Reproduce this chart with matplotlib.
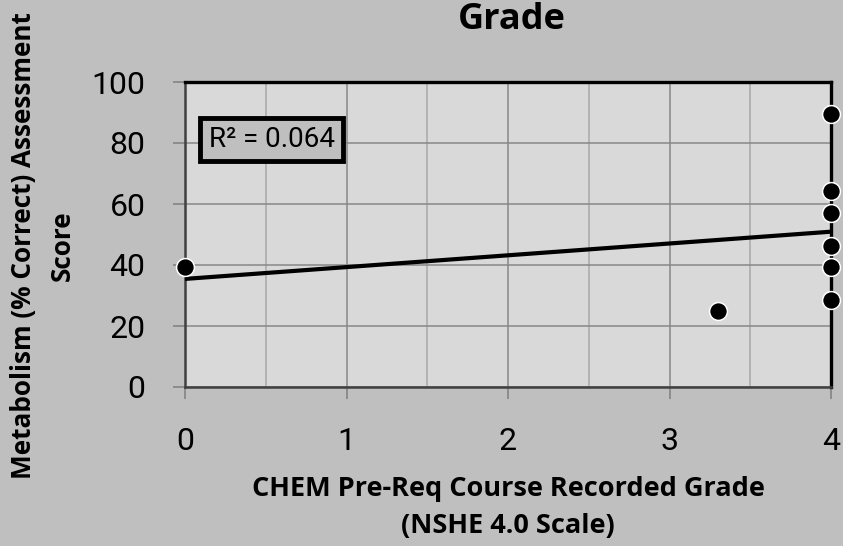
import numpy as np
import matplotlib
matplotlib.use("Agg")
import matplotlib.pyplot as plt
from matplotlib.ticker import MultipleLocator

# values
grade = [0.0, 3.3, 4.0, 4.0, 4.0, 4.0, 4.0, 4.0]
score = [39.5, 25.0, 89.4, 64.3, 57.0, 46.3, 39.2, 28.5]
r2_label = "R² = 0.064"
x_ticks = [0, 1, 2, 3, 4]
y_ticks = [0, 20, 40, 60, 80, 100]

OUTER, INNER = "#bfbfbf", "#d9d9d9"
GRID_MAJOR, GRID_MINOR = "#878787", "#a8a8a8"
BOLD_FONT = ["Open Sans", "DejaVu Sans"]

plt.rcParams["font.family"] = ["Roboto", "DejaVu Sans"]

W, H = 843, 546
fig = plt.figure(figsize=(W / 100, H / 100), dpi=100, facecolor=OUTER)
ax = fig.add_axes([185 / W, 1 - 387 / H, (831 - 185) / W, (387 - 82) / H])
ax.set_facecolor(INNER)

ax.set_xlim(0, 4)
ax.set_ylim(0, 100)
ax.set_xticks(x_ticks)
ax.set_yticks(y_ticks)
ax.xaxis.set_minor_locator(MultipleLocator(0.5))
ax.grid(True, which="major", color=GRID_MAJOR, lw=1.1)
ax.grid(True, which="minor", axis="x", color=GRID_MINOR, lw=1.1)
ax.set_axisbelow(True)

ax.tick_params(which="major", length=8.5, width=1.1, color="#7f7f7f",
               labelsize=23, pad=20)
ax.tick_params(which="minor", length=0)

for side in ("top", "right"):
    ax.spines[side].set_color("black")
    ax.spines[side].set_linewidth(2.4)
for side in ("left", "bottom"):
    ax.spines[side].set_color("#404040")
    ax.spines[side].set_linewidth(1.8)

# linear trend line (Excel-style)
slope, icpt = np.polyfit(grade, score, 1)
xs = np.array([0.0, 4.0])
ax.plot(xs, slope * xs + icpt, color="black", lw=3, solid_capstyle="butt", zorder=3)

ax.scatter(grade, score, s=165, color="black", edgecolors="white",
           linewidths=1.1, zorder=4, clip_on=False)

ax.text(0.134, 0.8115, r2_label, transform=ax.transAxes, ha="center",
        va="center", fontsize=20,
        bbox=dict(boxstyle="square,pad=0.3", fc=OUTER, ec="black", lw=3.5))

ax.set_xlabel("CHEM Pre-Req Course Recorded Grade\n(NSHE 4.0 Scale)",
              family=BOLD_FONT, fontsize=19.5, fontweight="bold",
              linespacing=1.55, va="top")
ax.xaxis.set_label_coords(0.5, (387 - 476) / 305)
ax.set_ylabel("Metabolism (% Correct) Assessment\nScore", family=BOLD_FONT,
              fontsize=18.8, fontweight="bold", linespacing=1.55,
              ha="center", va="center")
ax.yaxis.set_label_coords((43 - 185) / 646, (387 - 246) / 305)

fig.text(512 / W, 1 - 29 / H, "Grade", ha="center", va="baseline",
         family=BOLD_FONT, fontsize=26, fontweight="bold")

fig.savefig("out.png", dpi=100, facecolor=OUTER)
